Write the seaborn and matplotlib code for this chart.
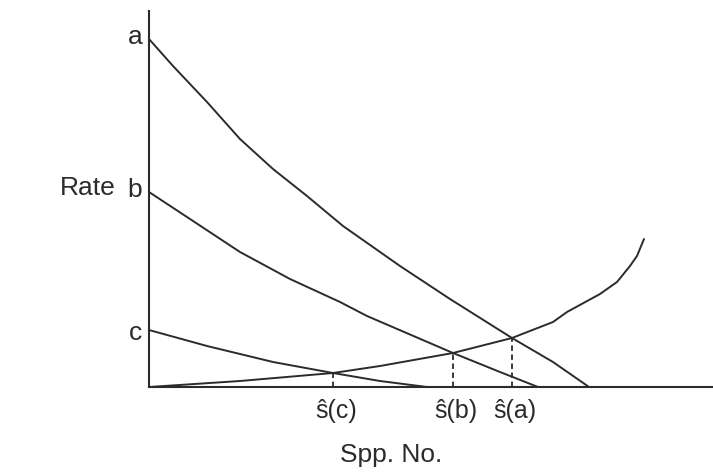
import numpy as np
import pandas as pd
import matplotlib
matplotlib.use("Agg")
import matplotlib.pyplot as plt
import seaborn as sns

# immigration curves for sources a, b, c (species number, rate)
imm_a_s = [0, 4.8, 11.6, 18.2, 24.8, 31.6, 38.8, 50.2, 60.2, 72.6, 80.8, 88.0]
imm_a_r = [69.6, 64.2, 57.0, 49.6, 43.6, 38.2, 32.2, 24.2, 17.6, 9.8, 5.0, 0.0]

imm_b_s = [0, 8.2, 18.2, 28.2, 38.2, 43.6, 60.8, 70.2, 77.8]
imm_b_r = [39.0, 33.6, 27.0, 21.6, 17.0, 14.2, 6.8, 3.0, 0.0]

imm_c_s = [0, 11.6, 24.8, 36.8, 46.2, 55.6]
imm_c_r = [11.4, 8.2, 5.0, 2.8, 1.2, 0.0]

# extinction curve
ext_s = [0, 18.2, 36.8, 46.2, 60.8, 72.6, 80.8, 83.6, 90.2, 93.6, 96.2, 97.6, 99.0]
ext_r = [0.0, 1.2, 2.8, 4.2, 6.8, 9.8, 13.0, 15.0, 18.6, 21.0, 24.2, 26.2, 29.6]

# equilibria
eq_names = ["c", "b", "a"]
eq_s = [36.8, 60.8, 72.6]
eq_r = [2.8, 6.8, 9.8]

sns.set_style("white")
plt.rcParams["font.family"] = ["Liberation Sans", "DejaVu Sans"]

ink = "#2b2b2b"
fig = plt.figure(figsize=(7.13, 4.77), dpi=100)
ax = fig.add_axes([149 / 713, 89 / 477, 564 / 713, 376 / 477])

for xs, ys in [(imm_a_s, imm_a_r), (imm_b_s, imm_b_r), (imm_c_s, imm_c_r), (ext_s, ext_r)]:
    sns.lineplot(x=xs, y=ys, ax=ax, color=ink, lw=1.4, sort=False, estimator=None)

ax.vlines(eq_s, 0, eq_r, colors=ink, linestyles=(0, (3, 2)), lw=1.3)

ax.set_xlim(0, 112.8)
ax.set_ylim(0, 75.2)
ax.set_xticks([])
ax.set_yticks([])
for side in ["top", "right"]:
    ax.spines[side].set_visible(False)
for side in ["left", "bottom"]:
    ax.spines[side].set_color(ink)
    ax.spines[side].set_linewidth(1.5)

fs = 19
ax.text(-2.8, 70.2, "a", ha="center", va="center", fontsize=fs, color=ink, clip_on=False)
ax.text(-2.8, 39.6, "b", ha="center", va="center", fontsize=fs, color=ink, clip_on=False)
ax.text(-2.8, 11.0, "c", ha="center", va="center", fontsize=fs, color=ink, clip_on=False)
ax.text(-12.2, 40.0, "Rate", ha="center", va="center", fontsize=fs, color=ink, clip_on=False)

for name, s in zip(eq_names, eq_s):
    ax.text(s + 0.6, -4.6, "ŝ(" + name + ")", ha="center", va="center", fontsize=fs - 1,
            color=ink, clip_on=False)

ax.text(48.4, -13.4, "Spp. No.", ha="center", va="center", fontsize=fs, color=ink, clip_on=False)

fig.savefig("out.png", dpi=100)
